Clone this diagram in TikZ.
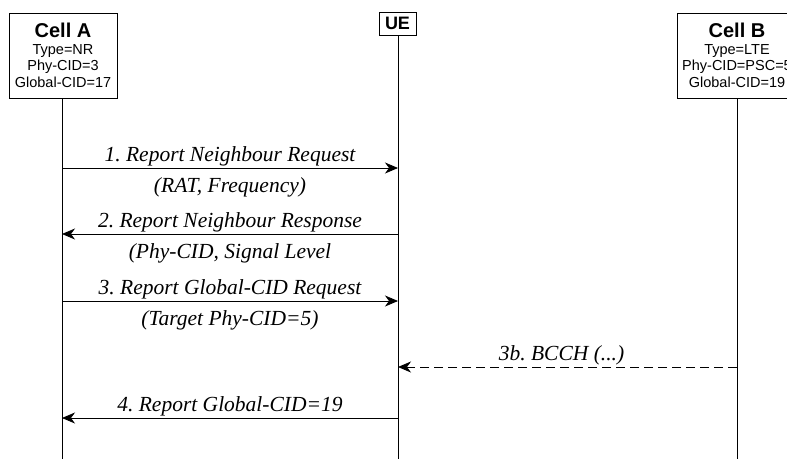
\documentclass[tikz,border=0pt]{standalone}
\usepackage{fontspec}
\setmainfont{Liberation Serif}
\setsansfont{Liberation Sans}
\usepackage{tikz}
\usetikzlibrary{positioning, arrows.meta}
\frenchspacing

\tikzset{
  cell/.style={draw, thick, fill=white, align=center, font=\sffamily\fontsize{14.5}{16.5}\selectfont,
               minimum width=108pt, minimum height=85pt, inner sep=2pt},
  ue/.style={draw, thick, fill=white, font=\sffamily\bfseries\fontsize{18}{20}\selectfont,
             minimum width=37pt, minimum height=23pt, inner sep=1pt},
  life/.style={thick},
  msg/.style={thick, -{Stealth[length=13pt,width=11pt,inset=4pt]}},
  reply/.style={msg, dashed, dash pattern=on 9pt off 5pt},
  lbl/.style={font=\itshape\fontsize{21.5}{24}\selectfont, inner sep=2pt},
  sub/.style={lbl, below=7pt}
}

\begin{document}
\begin{tikzpicture}[x=1pt, y=1pt]
  \useasboundingbox (0,0) rectangle (787,-459);

  % entities
  \node[cell] (A) at (63,-55.5) {{\bfseries\fontsize{20}{21}\selectfont Cell A}\\Type=NR\\Phy-CID=3\\Global-CID=17};
  \node[ue] (UE) at (397.5,-23.5) {UE};
  \node[cell, minimum width=120pt] (B) at (737,-55.5) {{\bfseries\fontsize{20}{21}\selectfont Cell B}\\Type=LTE\\Phy-CID=PSC=5\\Global-CID=19};

  % lifelines
  \coordinate (Aend) at (62,-459);
  \coordinate (UEend) at (398,-459);
  \coordinate (Bend) at (737,-459);
  \draw[life] (A.south -| Aend) -- (Aend);
  \draw[life] (UE.south -| UEend) -- (UEend);
  \draw[life] (B.south -| Bend) -- (Bend);

  % message points on the lifelines
  \coordinate (a1) at (62,-168);  \coordinate (u1) at (398,-168);
  \coordinate (a2) at (62,-234);  \coordinate (u2) at (398,-234);
  \coordinate (a3) at (62,-301);  \coordinate (u3) at (398,-301);
  \coordinate (u3b) at (398,-367); \coordinate (b3b) at (737,-367);
  \coordinate (a4) at (62,-418);  \coordinate (u4) at (398,-418);

  % messages
  \draw[msg] (a1) -- node[lbl, above] {1. Report Neighbour Request}
                     node[sub] {(RAT, Frequency)} (u1);
  \draw[msg] (u2) -- node[lbl, above] {2. Report Neighbour Response}
                     node[sub] {(Phy-CID, Signal Level} (a2);
  \draw[msg] (a3) -- node[lbl, above] {3. Report Global-CID Request}
                     node[sub] {(Target Phy-CID=5)} (u3);
  \draw[reply] (b3b) -- node[lbl, above, xshift=-6pt] {3b. BCCH (...)} (u3b);
  \draw[msg] (u4) -- node[lbl, above] {4. Report Global-CID=19} (a4);
\end{tikzpicture}
\end{document}
